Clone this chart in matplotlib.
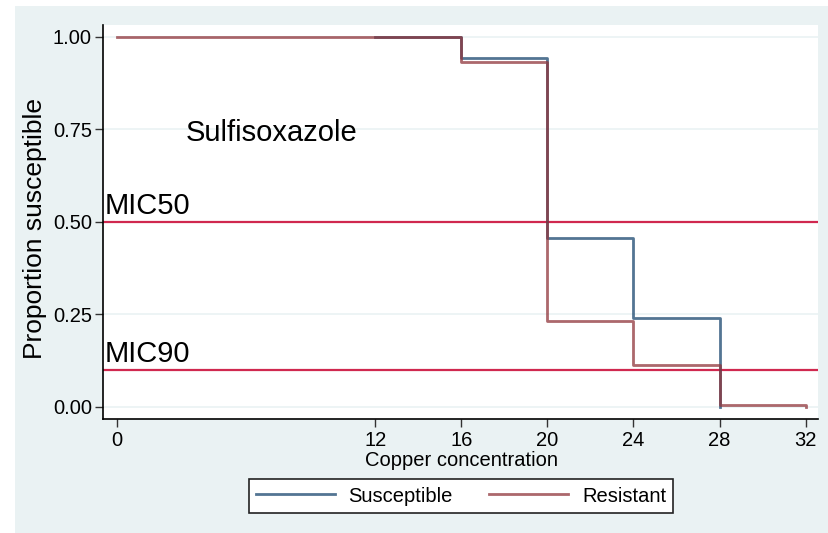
import matplotlib.pyplot as plt
from matplotlib.patches import Rectangle

plt.rcParams['font.family'] = ['Liberation Sans', 'DejaVu Sans']

# Survival-style step data: proportion susceptible vs copper concentration
susc_x = [12, 16, 20, 24, 28]
susc_y = [1.0, 0.944, 0.455, 0.239, 0.0]
res_x = [0, 16, 20, 24, 28, 32]
res_y = [1.0, 0.932, 0.232, 0.112, 0.004, 0.0]

x_ticks = [0, 12, 16, 20, 24, 28, 32]
y_ticks = [0.0, 0.25, 0.50, 0.75, 1.0]
y_tick_labels = ['0.00', '0.25', '0.50', '0.75', '1.00']

mic_levels = [0.5, 0.1]
mic_labels = ['MIC50', 'MIC90']

BG = '#EAF2F3'
NAVY = '#1A476F'
MAROON = '#90353B'
CRIMSON = '#D0284F'

fig = plt.figure(figsize=(8.29, 5.33), dpi=100, facecolor='white')
# shaded graph region behind the plot
fig.add_artist(Rectangle((15 / 829, 0), 1 - 15 / 829, 527 / 533,
                         transform=fig.transFigure, facecolor=BG,
                         edgecolor='none', zorder=-10))

ax = fig.add_axes([103 / 829, 114 / 533, 715 / 829, 394 / 533])
ax.set_facecolor('white')

for yt in y_ticks:
    ax.axhline(yt, color=BG, linewidth=1.2, zorder=1)

for lvl, lab in zip(mic_levels, mic_labels):
    ax.axhline(lvl, color=CRIMSON, linewidth=1.6, zorder=2)
    ax.text(-0.55, lvl + 0.006, lab, fontsize=21, ha='left', va='bottom',
            color='black', zorder=5)

ax.step(susc_x, susc_y, where='post', color=NAVY, alpha=0.75,
        linewidth=2, label='Susceptible', zorder=3)
ax.step(res_x, res_y, where='post', color=MAROON, alpha=0.75,
        linewidth=2, label='Resistant', zorder=4)

ax.text(3.2, 0.74, 'Sulfisoxazole', fontsize=21, ha='left', va='center')

ax.set_xlim(-0.64, 32.57)
ax.set_ylim(-0.033, 1.032)
ax.set_xticks(x_ticks)
ax.set_yticks(y_ticks)
ax.set_yticklabels(y_tick_labels)
ax.tick_params(axis='both', labelsize=14.5, direction='out', length=6,
               width=1, color='#333333')
ax.tick_params(axis='x', pad=3)
ax.tick_params(axis='y', pad=2)

for side in ['top', 'right']:
    ax.spines[side].set_visible(False)
for side in ['left', 'bottom']:
    ax.spines[side].set_linewidth(1.2)

ax.set_xlabel('Copper concentration', fontsize=14.5, va='top')
ax.xaxis.set_label_coords(0.5014, -0.081)
ax.set_ylabel('Proportion susceptible', fontsize=19)
ax.yaxis.set_label_coords(-0.079, 0.4835)

leg = fig.legend(loc='center', bbox_to_anchor=(461 / 829, 1 - 496 / 533),
                 ncol=2, fontsize=14.5, frameon=True, fancybox=False,
                 edgecolor='#222222', facecolor='white', framealpha=1,
                 handlelength=3.9, handletextpad=0.7, columnspacing=1.8,
                 borderpad=0.35)
leg.get_frame().set_linewidth(1.2)

fig.savefig('out.png', dpi=100, facecolor='white')
